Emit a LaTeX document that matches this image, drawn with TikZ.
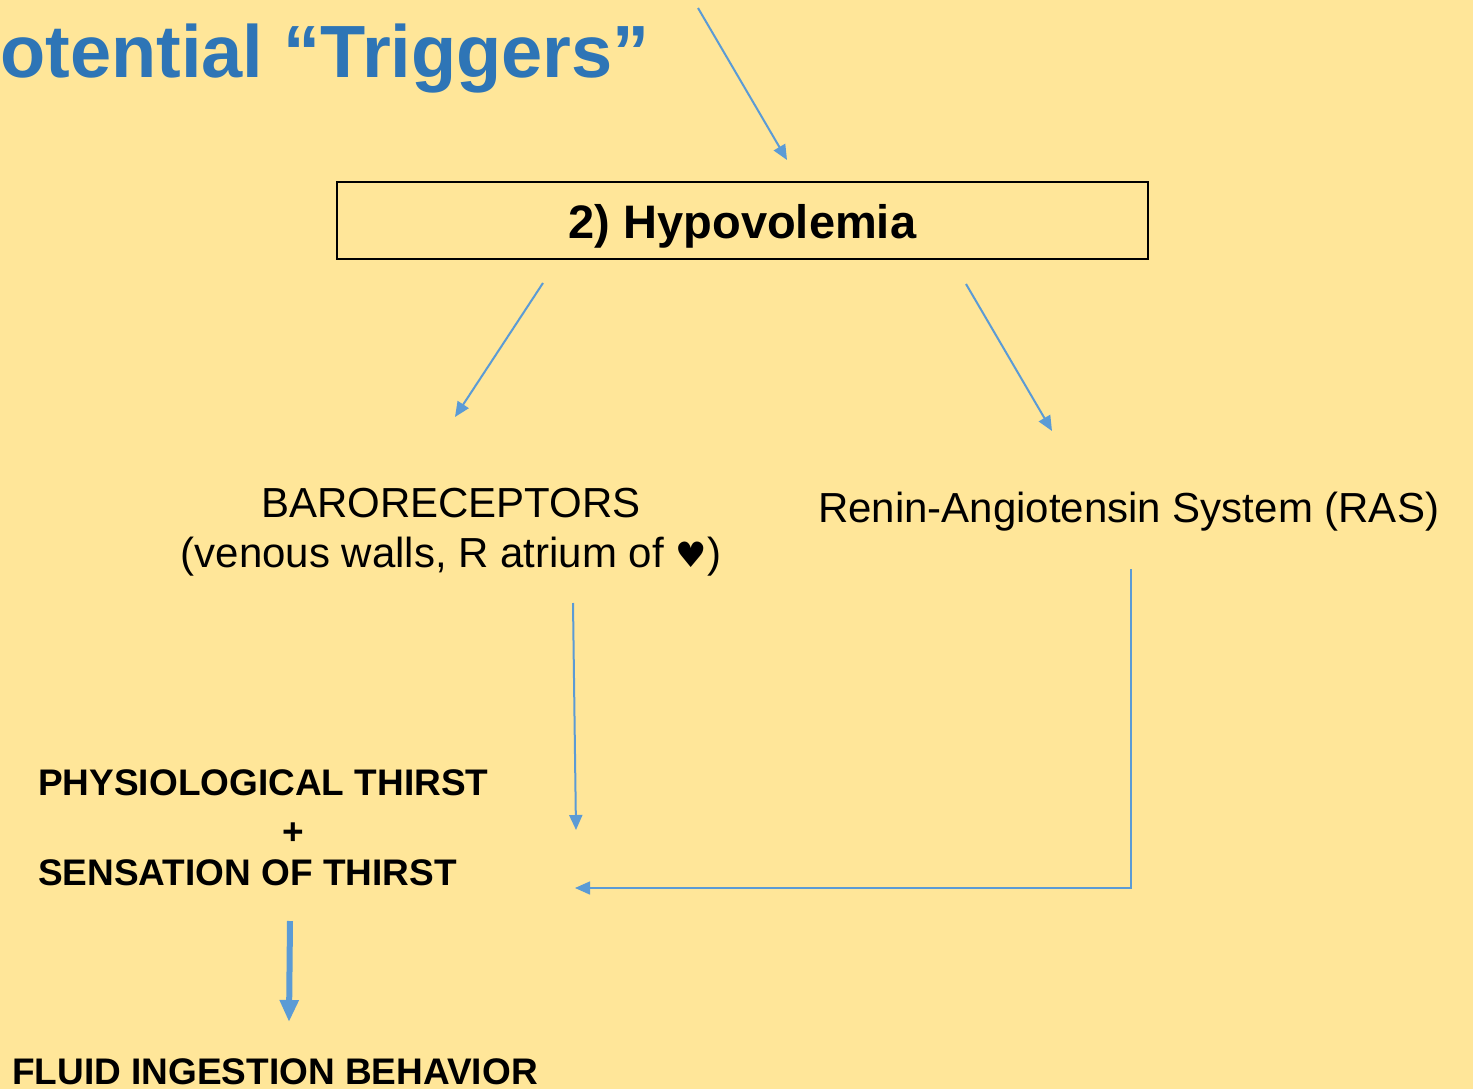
\documentclass[tikz,border=0pt]{standalone}
\usepackage{fontspec}
\setmainfont{Liberation Sans}
\newfontfamily\heartfont{DejaVu Sans}
\usetikzlibrary{arrows.meta}
\definecolor{bg}{HTML}{FFE699}
\definecolor{arrowblue}{HTML}{5B9BD5}
\definecolor{titleblue}{HTML}{2E75B6}
\begin{document}
\begin{tikzpicture}[x=1pt,y=-1pt,
  conn/.style={draw=arrowblue, line width=2pt, -{Triangle[length=15pt,width=13pt]}},
  thinconn/.style={draw=arrowblue, line width=1.5pt, -{Triangle[length=15pt,width=13pt]}},
  thickconn/.style={draw=arrowblue, line width=6pt, -{Triangle[length=22pt,width=18pt]}},
  titletext/.style={inner sep=0pt, text=titleblue, font=\fontsize{74}{80}\selectfont\bfseries},
  hypobox/.style={draw=black, line width=1.5pt, minimum width=811pt, minimum height=77pt, inner sep=0pt,
    text height=40pt, text depth=5pt, font=\fontsize{47}{50}\selectfont\bfseries},
  plaintext/.style={inner sep=0pt, font=\fontsize{42}{50}\selectfont},
  boldtext/.style={inner sep=0pt, font=\fontsize{37}{45}\selectfont\bfseries}]
\fill[bg] (0,0) rectangle (1473,1089);
\useasboundingbox (0,0) rectangle (1473,1089);
\clip (0,0) rectangle (1473,1089);

\node[titletext, anchor=base west] (title) at (0,78) {otential “Triggers”};
\node[hypobox] (hypo) at (742.5,220.5) {2) Hypovolemia};
\node[plaintext, align=center, anchor=north] (baro) at (451,488) {BARORECEPTORS\\(venous walls, R atrium of {\heartfont\fontsize{35}{40}\selectfont ♥})};
\node[plaintext, anchor=base west] (ras) at (818,522) {Renin-Angiotensin System (RAS)};
\node[boldtext, align=left, anchor=north west] (thirst) at (38,769.5) {PHYSIOLOGICAL THIRST\\[4pt]\hspace{244pt}+\\[-4pt]SENSATION OF THIRST};
\node[boldtext, anchor=base west] (fluid) at (12,1084) {FLUID INGESTION BEHAVIOR};

\coordinate (t0) at (698,8);
\coordinate (t1) at (787,160);
\coordinate (l0) at (543,283);
\coordinate (l1) at (455,417);
\coordinate (r0) at (966,284);
\coordinate (r1) at (1052,431);
\coordinate (b0) at (573,603);
\coordinate (b1) at (576,830);
\coordinate (s0) at (1131,569);
\coordinate (s1) at (575,888);
\coordinate (f0) at (290,921);
\coordinate (f1) at (289,1022);

\draw[conn] (t0) -- (t1);
\draw[conn] (l0) -- (l1);
\draw[conn] (r0) -- (r1);
\draw[conn] (b0) -- (b1);
\draw[thinconn] (s0) |- (s1);
\draw[thickconn] (f0) -- (f1);
\end{tikzpicture}
\end{document}
